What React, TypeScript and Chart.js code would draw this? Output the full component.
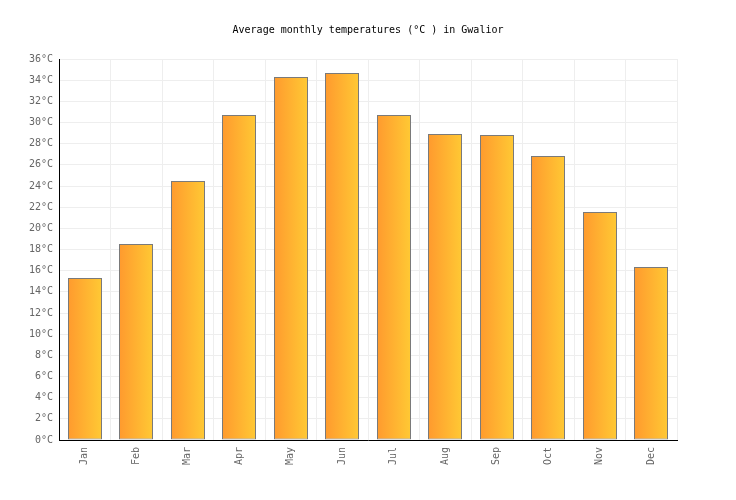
import { useEffect, useRef } from "react";
import { Chart, registerables } from "chart.js";

Chart.register(...registerables);

const MONTHS = ["Jan", "Feb", "Mar", "Apr", "May", "Jun", "Jul", "Aug", "Sep", "Oct", "Nov", "Dec"];
const AVG_TEMPS = [15.3, 18.5, 24.5, 30.7, 34.3, 34.7, 30.7, 28.9, 28.8, 26.8, 21.5, 16.3];
const Y_MAX = 36;
const Y_STEP = 2;

const FONT = "'DejaVu Sans Mono', monospace";
const BAR_PCT = 0.66;

// snap bar edges to whole pixels so the 1px outline stays crisp
const crispBars = {
  id: "crispBars",
  afterDatasetsUpdate(chart: any) {
    chart.getDatasetMeta(0).data.forEach((el: any) => {
      el.x = Math.round(el.x);
      el.y = Math.round(el.y);
      el.width = Math.round(el.width);
    });
  },
};

export default function App() {
  const canvasRef = useRef<HTMLCanvasElement>(null);

  useEffect(() => {
    document.body.style.margin = "0";
    if (!canvasRef.current) return;
    const chart = new Chart(canvasRef.current, {
      type: "bar",
      data: {
        labels: MONTHS,
        datasets: [
          {
            data: AVG_TEMPS,
            backgroundColor: (ctx: any) => {
              const c = ctx.chart;
              const x = c.scales?.x;
              if (!c.chartArea || !x) return "#ffb333";
              const mid = x.getPixelForValue(ctx.dataIndex);
              const half = (x.width / MONTHS.length) * BAR_PCT / 2;
              const g = c.ctx.createLinearGradient(mid - half, 0, mid + half, 0);
              g.addColorStop(0, "#ff9a2e");
              g.addColorStop(1, "#ffc934");
              return g;
            },
            borderColor: "#7a7a7a",
            borderWidth: 1,
            borderSkipped: false,
            inflateAmount: 0,
            barPercentage: BAR_PCT,
            categoryPercentage: 1,
          },
        ],
      },
      options: {
        responsive: false,
        animation: false,
        layout: { padding: 0 },
        plugins: {
          legend: { display: false },
          tooltip: { enabled: false },
          title: {
            display: true,
            text: "Average monthly temperatures (°C ) in Gwalior",
            color: "#000",
            font: { family: FONT, size: 10, weight: "normal" },
            padding: { top: 24, bottom: 23 },
          },
        },
        scales: {
          x: {
            offset: true,
            grid: { color: "#eeeeee", offset: true, drawTicks: false },
            border: { color: "#000", width: 1 },
            ticks: {
              color: "#666",
              font: { family: FONT, size: 10 },
              minRotation: 90,
              maxRotation: 90,
              padding: 7,
            },
            afterFit: (s: any) => {
              s.height = 60;
            },
          },
          y: {
            min: 0,
            max: Y_MAX,
            grid: { color: "#eeeeee", drawTicks: false },
            border: { color: "#000", width: 1 },
            ticks: {
              stepSize: Y_STEP,
              color: "#666",
              font: { family: FONT, size: 10 },
              padding: 6,
              callback: (v: any) => `${v}°C`,
            },
            afterFit: (s: any) => {
              s.width = 59;
            },
          },
          // empty right-hand margin, so the title stays centred on the page
          yRight: {
            position: "right",
            min: 0,
            max: Y_MAX,
            grid: { display: false, drawTicks: false },
            border: { display: false },
            ticks: { display: false },
            afterFit: (s: any) => {
              s.width = 59;
            },
          },
        },
      },
      plugins: [crispBars],
    });
    return () => chart.destroy();
  }, []);

  return (
    <div style={{ width: 736, height: 500, background: "#fff" }}>
      <canvas ref={canvasRef} width={736} height={500} role="img" aria-label="Average monthly temperatures in Gwalior" />
    </div>
  );
}
